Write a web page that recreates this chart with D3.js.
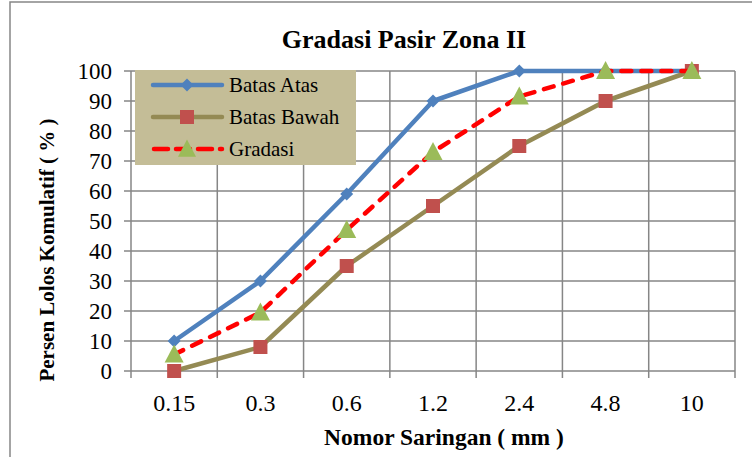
<!DOCTYPE html>
<html><head><meta charset="utf-8">
<script src="https://cdn.jsdelivr.net/npm/d3@7"></script>
<style>body{margin:0;background:#fff}svg{display:block}</style>
</head><body>
<svg id="c" width="752" height="457"></svg>
<script>
const categories = ["0.15","0.3","0.6","1.2","2.4","4.8","10"];
const batasAtas  = [10, 30, 59, 90, 100, 100, 100];
const batasBawah = [0, 8, 35, 55, 75, 90, 100];
const gradasi    = [5.5, 19.5, 47, 73, 91.5, 100, 100];
const yTicks = [0,10,20,30,40,50,60,70,80,90,100];
const seriesNames = ["Batas Atas","Batas Bawah","Gradasi"];

const FONT = "'Liberation Serif', 'Times New Roman', serif";
const svg = d3.select("#c");
svg.append("rect").attr("x",10).attr("y",2).attr("width",800).attr("height",500)
  .attr("fill","#fff").attr("stroke","#868686").attr("stroke-width",1.5);

const L=131, R=735, T=71, B=371;
const x = d3.scaleBand().domain(categories).range([L,R]).padding(0);
const y = d3.scaleLinear().domain([0,100]).range([B,T]);
const cx = c => x(c)+x.bandwidth()/2;
const gridCol="#868686";

svg.append("g").selectAll("line").data(yTicks).join("line")
  .attr("x1",L-7).attr("x2",R).attr("y1",d=>y(d)).attr("y2",d=>y(d))
  .attr("stroke",gridCol).attr("stroke-width",1.5);
const bounds = categories.map(c=>x(c)).concat([R]);
svg.append("g").selectAll("line").data(bounds).join("line")
  .attr("x1",d=>d).attr("x2",d=>d).attr("y1",T).attr("y2",B+7)
  .attr("stroke",gridCol).attr("stroke-width",1.5);

svg.append("g").selectAll("text").data(yTicks).join("text")
  .attr("x",L-19).attr("y",d=>y(d)).attr("dy","0.34em").attr("text-anchor","end")
  .attr("font-family",FONT).attr("font-size",23).attr("fill","#000").text(d=>d);
svg.append("g").selectAll("text").data(categories).join("text")
  .attr("x",d=>cx(d)).attr("y",411).attr("text-anchor","middle")
  .attr("font-family",FONT).attr("font-size",24).attr("fill","#000").text(d=>d);

svg.append("text").attr("x",404).attr("y",48).attr("text-anchor","middle")
  .attr("font-family",FONT).attr("font-size",26).attr("font-weight","bold").text("Gradasi Pasir Zona II");
svg.append("text").attr("x",444).attr("y",445).attr("text-anchor","middle")
  .attr("font-family",FONT).attr("font-size",23.5).attr("font-weight","bold").text("Nomor Saringan ( mm )");
svg.append("text").attr("transform","translate(54,250) rotate(-90)").attr("text-anchor","middle")
  .attr("font-family",FONT).attr("font-size",21).attr("font-weight","bold").text("Persen Lolos Komulatif ( % )");

const line = d3.line().x((d,i)=>cx(categories[i])).y(d=>y(d));
const colAtas="#4F81BD", colBawah="#948A54", colSq="#C0504D", colRed="#FF0000", colTri="#9BBB59";

function diamond(g,px,py,s){ g.append("path").attr("d",`M${px},${py-s}L${px+s},${py}L${px},${py+s}L${px-s},${py}Z`).attr("fill",colAtas); }
function square(g,px,py,s){ g.append("rect").attr("x",px-s).attr("y",py-s).attr("width",2*s).attr("height",2*s).attr("fill",colSq); }
function tri(g,px,py,s){ g.append("path").attr("d",`M${px},${py-s*1.05}L${px+s},${py+s*0.85}L${px-s},${py+s*0.85}Z`).attr("fill",colTri); }

const g1=svg.append("g");
g1.append("path").attr("d",line(batasAtas)).attr("fill","none").attr("stroke",colAtas).attr("stroke-width",4.5).attr("stroke-linejoin","round");
batasAtas.forEach((v,i)=>diamond(g1,cx(categories[i]),y(v),6.5));
const g2=svg.append("g");
g2.append("path").attr("d",line(batasBawah)).attr("fill","none").attr("stroke",colBawah).attr("stroke-width",4.5).attr("stroke-linejoin","round");
batasBawah.forEach((v,i)=>square(g2,cx(categories[i]),y(v),7));
const g3=svg.append("g");
g3.append("path").attr("d",line(gradasi)).attr("fill","none").attr("stroke",colRed).attr("stroke-width",4.5)
  .attr("stroke-dasharray","10,10").attr("stroke-linecap","round");
gradasi.forEach((v,i)=>tri(g3,cx(categories[i]),y(v),9.5));

const lg=svg.append("g");
lg.append("rect").attr("x",135).attr("y",70).attr("width",221).attr("height",95).attr("fill","#C4BD97");
const ly=[85,117,149];
lg.append("line").attr("x1",153).attr("x2",222).attr("y1",ly[0]).attr("y2",ly[0]).attr("stroke",colAtas).attr("stroke-width",4.5).attr("stroke-linecap","round");
diamond(lg,187,ly[0],6.5);
lg.append("line").attr("x1",153).attr("x2",222).attr("y1",ly[1]).attr("y2",ly[1]).attr("stroke",colBawah).attr("stroke-width",4.5).attr("stroke-linecap","round");
square(lg,187,ly[1],7);
lg.append("line").attr("x1",154).attr("x2",222).attr("y1",ly[2]).attr("y2",ly[2]).attr("stroke",colRed).attr("stroke-width",4.5).attr("stroke-dasharray","14,8").attr("stroke-linecap","round");
tri(lg,187,ly[2],9);
lg.selectAll("text").data(seriesNames).join("text")
  .attr("x",229).attr("y",(d,i)=>ly[i]).attr("dy","0.34em")
  .attr("font-family",FONT).attr("font-size",21).text(d=>d);
</script>
</body></html>
